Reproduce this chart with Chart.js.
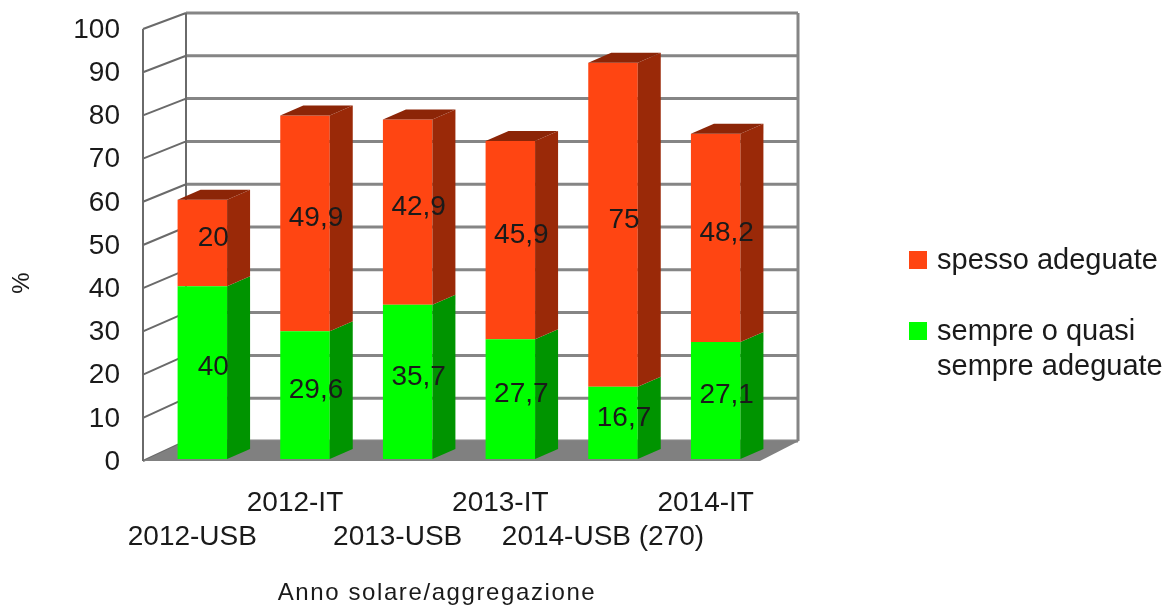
<!DOCTYPE html>
<html>
<head>
<meta charset="utf-8">
<script src="https://cdn.jsdelivr.net/npm/chart.js@4"></script>
<style>
  html, body { margin: 0; padding: 0; background: #fff; }
  canvas { display: block; }
</style>
</head>
<body>
<canvas id="chart" width="1167" height="608"></canvas>
<script>
// --- chart data ---
const categories = ['2012-USB', '2012-IT', '2013-USB', '2013-IT', '2014-USB (270)', '2014-IT'];
const sempreValues = [40, 29.6, 35.7, 27.7, 16.7, 27.1];   // sempre o quasi sempre adeguate
const spessoValues = [20, 49.9, 42.9, 45.9, 75, 48.2];     // spesso adeguate
const yMin = 0, yMax = 100, yStep = 10;

const colors = {
    spesso: { front: '#ff4512', side: '#9a2908', top: '#8c2507' },
    sempre: { front: '#00ff00', side: '#009400', top: '#007a00' }
};
const textColor = '#1a1a1a';
const fontFamily = '"Liberation Sans", Arial, sans-serif';

// depth of the bars (px)
const barDX = 23, barDY = 10;

const fmt = v => String(v).replace('.', ',');

// --- 3D frame, side faces, labels and legend ---
const frame3d = {
    id: 'frame3d',
    beforeDatasetsDraw(chart) {
        const { ctx, chartArea: a, scales: { y } } = chart;
        const frontY = v => y.getPixelForValue(v) + 2;
        const backY = v => y.getPixelForValue(v) - 18 + 4 * v / 100;
        const fl = a.left - 8, bl = fl + 43, br = a.right + 31, fr = a.right - 7;
        ctx.save();

        // back wall grid
        ctx.strokeStyle = '#858585';
        ctx.lineWidth = 3;
        for (let v = yMin; v <= yMax; v += yStep) {
            ctx.beginPath();
            ctx.moveTo(bl, backY(v));
            ctx.lineTo(br, backY(v));
            ctx.stroke();
        }
        ctx.beginPath();
        ctx.moveTo(br, backY(yMax));
        ctx.lineTo(br, backY(0));
        ctx.stroke();

        // left wall
        ctx.strokeStyle = '#6a6a6a';
        ctx.lineWidth = 2;
        ctx.beginPath();
        ctx.moveTo(fl, frontY(0));
        ctx.lineTo(fl, frontY(yMax));
        ctx.moveTo(bl, backY(0));
        ctx.lineTo(bl, backY(yMax));
        for (let v = yMin; v <= yMax; v += yStep) {
            ctx.moveTo(fl, frontY(v));
            ctx.lineTo(bl, backY(v));
        }
        ctx.stroke();

        // floor
        ctx.fillStyle = '#808080';
        ctx.beginPath();
        ctx.moveTo(fl, frontY(0));
        ctx.lineTo(fr, frontY(0));
        ctx.lineTo(br + 1, backY(0));
        ctx.lineTo(bl, backY(0));
        ctx.closePath();
        ctx.fill();
        ctx.restore();
    },
    afterDatasetsDraw(chart) {
        const { ctx } = chart;
        const keys = ['sempre', 'spesso'];
        ctx.save();
        chart.data.datasets.forEach((ds, di) => {
            const c = colors[keys[di]];
            chart.getDatasetMeta(di).data.forEach(bar => {
                const half = bar.width / 2;
                const x1 = bar.x - half, x2 = bar.x + half;
                // side face
                ctx.fillStyle = c.side;
                ctx.beginPath();
                ctx.moveTo(x2, bar.y);
                ctx.lineTo(x2 + barDX, bar.y - barDY);
                ctx.lineTo(x2 + barDX, bar.base - barDY);
                ctx.lineTo(x2, bar.base);
                ctx.closePath();
                ctx.fill();
                // top face only for the top segment
                if (di === chart.data.datasets.length - 1) {
                    ctx.fillStyle = c.top;
                    ctx.beginPath();
                    ctx.moveTo(x1, bar.y);
                    ctx.lineTo(x2, bar.y);
                    ctx.lineTo(x2 + barDX, bar.y - barDY);
                    ctx.lineTo(x1 + barDX, bar.y - barDY);
                    ctx.closePath();
                    ctx.fill();
                }
            });
        });

        // value labels
        ctx.fillStyle = textColor;
        ctx.font = '28px ' + fontFamily;
        ctx.textAlign = 'center';
        ctx.textBaseline = 'middle';
        chart.data.datasets.forEach((ds, di) => {
            chart.getDatasetMeta(di).data.forEach((bar, i) => {
                ctx.fillText(fmt(ds.data[i]), bar.x + 11, (bar.y + bar.base) / 2 - 5);
            });
        });
        ctx.restore();
    },
    afterDraw(chart) {
        const { ctx } = chart;
        ctx.save();
        ctx.fillStyle = textColor;

        // axis titles
        ctx.font = '24px ' + fontFamily;
        ctx.textAlign = 'center';
        ctx.textBaseline = 'alphabetic';
        ctx.letterSpacing = '1.6px';
        ctx.fillText('Anno solare/aggregazione', 437, 600);
        ctx.letterSpacing = '0px';
        ctx.save();
        ctx.translate(29, 283);
        ctx.rotate(-Math.PI / 2);
        ctx.fillText('%', 0, 0);
        ctx.restore();

        // legend (top series first)
        ctx.font = '29px ' + fontFamily;
        ctx.textAlign = 'left';
        const items = [
            { ds: chart.data.datasets[1], key: 'spesso', y: 251 },
            { ds: chart.data.datasets[0], key: 'sempre', y: 322 }
        ];
        items.forEach(it => {
            ctx.fillStyle = colors[it.key].front;
            ctx.fillRect(909, it.y, 18, 18);
            ctx.fillStyle = textColor;
            const lines = Array.isArray(it.ds.label) ? it.ds.label : [it.ds.label];
            lines.forEach((ln, k) => ctx.fillText(ln, 937, it.y + 18 + k * 35));
        });
        ctx.restore();
    }
};

new Chart(document.getElementById('chart'), {
    type: 'bar',
    data: {
        labels: categories,
        datasets: [
            {
                label: ['sempre o quasi', 'sempre adeguate'],
                data: sempreValues,
                backgroundColor: colors.sempre.front,
                borderWidth: 0,
                categoryPercentage: 1,
                barPercentage: 0.482
            },
            {
                label: 'spesso adeguate',
                data: spessoValues,
                backgroundColor: colors.spesso.front,
                borderWidth: 0,
                categoryPercentage: 1,
                barPercentage: 0.482
            }
        ]
    },
    options: {
        responsive: false,
        animation: false,
        layout: { padding: { left: 0, top: 27, right: 400, bottom: 0 } },
        plugins: {
            legend: { display: false },
            tooltip: { enabled: false }
        },
        scales: {
            x: {
                stacked: true,
                grid: { display: false, drawTicks: false },
                border: { display: false },
                ticks: {
                    autoSkip: false,
                    maxRotation: 0,
                    padding: 27,
                    labelOffset: -10,
                    color: textColor,
                    font: { family: fontFamily, size: 28, lineHeight: 1.22 },
                    callback: function(val, i) {
                        const lbl = this.getLabelForValue(val);
                        return i % 2 === 0 ? ['', lbl] : [lbl, ''];
                    }
                },
                afterFit: s => { s.height = 149; s.paddingLeft = 0; s.paddingRight = 0; }
            },
            y: {
                stacked: true,
                min: yMin,
                max: yMax,
                grid: { display: false, drawTicks: false },
                border: { display: false },
                ticks: {
                    stepSize: yStep,
                    padding: 31,
                    labelOffset: 3,
                    color: textColor,
                    font: { family: fontFamily, size: 28 }
                },
                afterFit: s => { s.width = 151; s.paddingTop = 0; s.paddingBottom = 0; }
            }
        }
    },
    plugins: [frame3d]
});
</script>
</body>
</html>
